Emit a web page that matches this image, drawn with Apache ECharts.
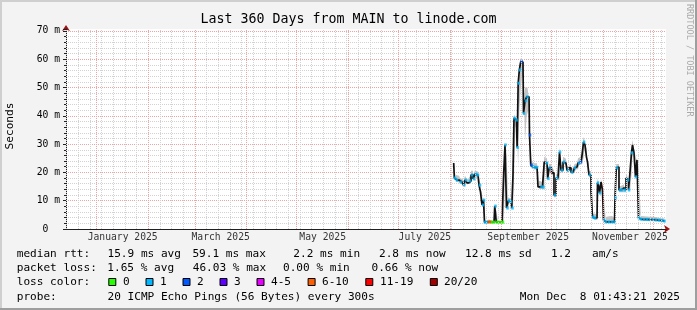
<!DOCTYPE html>
<html><head><meta charset="utf-8">
<script src="https://cdn.jsdelivr.net/npm/echarts@6/dist/echarts.min.js"></script>
<style>html,body{margin:0;padding:0;background:#f3f3f3}#c{width:697px;height:310px}</style>
</head><body><div id="c"></div>
<script>
// ---------- data ----------
const times = ['2025-08-03 05:00','2025-08-04 00:00','2025-08-05 05:00','2025-08-06 10:00','2025-08-07 14:00','2025-08-08 19:00','2025-08-09 10:00','2025-08-10 14:00','2025-08-11 19:00','2025-08-13 00:00',
'2025-08-14 05:00','2025-08-15 10:00','2025-08-16 14:00','2025-08-17 19:00','2025-08-19 00:00','2025-08-19 14:00','2025-08-20 19:00','2025-08-21 10:00','2025-08-22 00:00','2025-08-23 05:00',
'2025-08-24 10:00','2025-08-25 07:00','2025-08-26 05:00','2025-08-27 10:00','2025-08-28 07:00','2025-08-29 05:00','2025-08-30 10:00','2025-08-31 14:00','2025-09-01 19:00','2025-09-02 17:00',
'2025-09-03 07:00','2025-09-04 12:00','2025-09-05 10:00','2025-09-06 14:00','2025-09-07 12:00','2025-09-08 02:00','2025-09-08 17:00','2025-09-09 22:00','2025-09-10 14:00','2025-09-11 05:00',
'2025-09-12 00:00','2025-09-12 22:00','2025-09-13 19:00','2025-09-14 10:00','2025-09-15 14:00','2025-09-16 12:00','2025-09-17 10:00','2025-09-18 00:00','2025-09-18 22:00','2025-09-19 19:00',
'2025-09-21 00:00','2025-09-22 05:00','2025-09-23 10:00','2025-09-24 22:00','2025-09-26 02:00','2025-09-27 00:00','2025-09-28 05:00','2025-09-29 00:00','2025-09-30 00:00','2025-10-01 19:00',
'2025-10-03 00:00','2025-10-04 05:00','2025-10-05 10:00','2025-10-06 00:00','2025-10-07 05:00','2025-10-08 10:00','2025-10-09 14:00','2025-10-10 19:00','2025-10-12 00:00','2025-10-13 05:00',
'2025-10-14 10:00','2025-10-15 00:00','2025-10-16 05:00','2025-10-17 10:00','2025-10-18 14:00','2025-10-19 19:00','2025-10-20 10:00','2025-10-21 14:00','2025-10-22 05:00','2025-10-22 19:00',
'2025-10-24 00:00','2025-10-25 05:00','2025-10-25 19:00','2025-10-27 00:00','2025-10-28 05:00','2025-10-28 19:00','2025-10-29 10:00','2025-10-30 00:00','2025-10-31 05:00','2025-10-31 19:00',
'2025-11-01 10:00','2025-11-02 14:00','2025-11-04 10:00','2025-11-06 05:00','2025-11-07 17:00','2025-11-08 07:00','2025-11-09 05:00','2025-11-09 19:00','2025-11-11 00:00','2025-11-12 05:00',
'2025-11-12 19:00','2025-11-14 00:00','2025-11-15 05:00','2025-11-15 19:00','2025-11-16 10:00','2025-11-17 14:00','2025-11-18 05:00','2025-11-18 19:00','2025-11-20 00:00','2025-11-20 14:00',
'2025-11-21 19:00','2025-11-22 10:00','2025-11-23 14:00','2025-11-25 10:00','2025-11-27 05:00','2025-11-29 00:00','2025-11-30 19:00','2025-12-02 14:00','2025-12-04 10:00','2025-12-06 05:00',
'2025-12-07 17:00'];
// median rtt in ms
const median = [23.3,18.0,17.3,17.3,16.6,16.6,15.5,17.3,16.3,17.0,
19.1,17.7,19.4,19.1,15.5,13.1,8.5,10.2,2.4,2.4,
2.5,2.5,2.4,2.4,8.1,2.4,2.4,2.4,2.4,20.2,
29.7,7.4,10.0,9.6,7.4,19.0,39.2,38.5,28.8,51.5,
56.2,59.1,59.0,40.8,45.3,46.7,46.7,33.2,22.6,22.0,
21.8,21.8,14.9,14.9,14.8,23.7,23.3,17.8,21.6,19.8,
12.0,18.0,18.0,27.2,20.8,23.7,23.3,20.8,21.6,20.1,
20.8,21.6,21.9,23.3,23.7,25.8,30.7,29.7,25.4,23.7,
19.1,13.1,4.2,3.9,3.9,16.3,15.5,12.7,16.6,13.8,
3.2,2.5,2.5,2.5,2.5,11.0,21.6,21.9,13.8,13.8,
14.5,13.8,18.0,17.3,13.8,20.1,26.9,29.7,26.9,18.4,
24.4,3.9,3.5,3.4,3.4,3.3,3.3,3.2,3.1,3.0,
2.8];
// lost pings (of 20) where a loss colour is visible, null = plain
const loss = [null,1,1,null,1,null,1,1,null,1,
1,1,1,1,1,null,1,1,1,1,
8,8,0,0,1,0,0,0,0,null,
1,1,1,1,1,null,1,1,1,1,
1,2,null,1,1,1,null,2,2,1,
1,1,null,1,1,null,1,1,1,null,
1,1,null,1,1,1,null,1,null,1,
null,1,null,1,2,null,1,null,null,null,
1,null,1,1,null,1,null,1,null,null,
1,1,1,1,1,1,1,null,1,1,
null,1,null,1,1,null,1,null,null,1,
null,1,1,1,1,1,1,1,1,1,
1];
// spread of the pings (smoke), ms
const smokeMin = [22.5,17.3,16.6,16.6,15.9,15.9,14.8,16.6,15.6,16.3,
18.4,17.0,18.7,18.4,14.8,12.4,7.8,9.5,2.2,2.2,
2.2,2.2,2.2,2.2,7.0,2.2,2.2,2.2,2.2,19.5,
28.5,6.7,9.2,8.9,6.7,18.0,36.5,33.0,22.0,42.0,
50.0,54.0,53.0,31.0,40.0,42.0,40.0,26.0,21.5,21.2,
21.0,21.0,14.1,14.1,14.0,22.8,22.5,17.0,20.8,19.0,
11.2,17.2,17.2,25.8,20.0,22.9,22.5,20.0,20.8,19.3,
20.0,20.8,21.1,22.5,22.9,25.0,29.5,28.5,24.5,22.9,
18.3,12.3,3.6,3.3,3.3,15.5,14.7,11.9,15.8,13.0,
2.7,2.3,2.3,2.3,2.3,10.2,20.8,21.1,13.0,13.0,
13.7,13.0,17.2,16.5,13.0,19.3,25.8,28.5,25.8,17.6,
23.5,3.3,3.0,2.9,2.9,2.8,2.8,2.7,2.7,2.6,
2.5];
const smokeMax = [24.5,19.5,19.0,18.8,18.0,17.6,16.8,18.8,17.6,18.5,
20.6,19.0,20.8,20.2,16.6,14.0,9.8,11.2,3.0,3.2,
3.4,3.0,2.9,2.9,8.8,2.8,2.8,2.8,2.8,21.5,
31.0,8.6,11.2,10.6,8.4,20.0,40.5,39.5,35.0,53.0,
58.0,60.3,60.0,43.0,50.0,50.0,48.0,35.0,25.0,23.5,
23.2,23.2,17.0,16.5,16.5,25.5,25.0,19.5,23.0,21.0,
13.5,19.5,19.0,29.0,22.5,25.5,24.8,22.3,23.0,21.5,
22.2,23.0,23.2,25.0,25.5,28.5,32.5,31.0,27.0,25.0,
20.5,14.5,5.2,5.5,5.0,18.0,16.8,13.8,17.8,15.0,
4.0,4.2,4.5,4.6,4.0,12.5,23.0,23.0,15.2,15.0,
15.8,15.0,19.5,18.5,15.0,21.5,28.5,31.5,28.0,19.8,
25.8,5.2,4.6,4.5,4.4,4.3,4.3,4.2,4.0,3.9,
3.7];
const yTickLabels = ['0  ','10 m','20 m','30 m','40 m','50 m','60 m','70 m'];
const monthLabelTimes = ['2025-01-16 14:00','2025-03-16 10:00','2025-05-16 14:00','2025-07-16 22:00','2025-09-16 22:00','2025-11-17 00:00'];
const monthLabelNames = ['January 2025','March 2025','May 2025','July 2025','September 2025','November 2025'];
const lossNames = ['0','1','2','3','4-5','6-10','11-19','20/20'];
const lossPalette = ['#26ff00','#00b8ff','#0059ff','#5e00ff','#e600ff','#ff5e00','#ff0000','#a10000'];
const titleText = 'Last 360 Days from MAIN to linode.com';
const rttLabel = 'median rtt:';
const rttStats = ['15.9 ms avg','59.1 ms max','2.2 ms min','2.8 ms now','12.8 ms sd','1.2','am/s'];
const lossLabel = 'packet loss:';
const lossStats = ['1.65 % avg','46.03 % max','0.00 % min','0.66 % now'];
const colorLabel = 'loss color:';
const probeLabel = 'probe:';
const probeText = '20 ICMP Echo Pings (56 Bytes) every 300s';
const dateText = 'Mon Dec  8 01:43:21 2025';
const unitText = 'Seconds';
const watermark = 'RRDTOOL / TOBI OETIKER';

// ---------- helpers ----------
function ts(s){const [d,h]=s.split(' ');const [Y,M,D]=d.split('-').map(Number);const [hh,mm]=h.split(':').map(Number);return Date.UTC(Y,M-1,D,hh,mm);}
function bucket(n){if(n<=3)return n;if(n<=5)return 4;if(n<=10)return 5;if(n<20)return 6;return 7;}
const X_MIN = Date.UTC(2024,11,13,14,24), X_MAX = Date.UTC(2025,11,8,14,24);
const Y_MAX = 70.67;
const DAY = 86400000;
const weekLines=[]; for(let t=Date.UTC(2024,11,14); t<X_MAX; t+=7*DAY){ if(t>X_MIN) weekLines.push(t); }
const monthLines=[]; for(let m=0;m<12;m++) monthLines.push(Date.UTC(2025,m,1));
const MONO = '"DejaVu Sans Mono"';

const medianData = times.map((t,i)=>[ts(t),median[i]]);
const baseData = times.map((t,i)=>[ts(t),smokeMin[i]]);
const bandData = times.map((t,i)=>[ts(t),+(smokeMax[i]-smokeMin[i]).toFixed(2)]);
const lossData = []; times.forEach((t,i)=>{ if(loss[i]!==null) lossData.push([ts(t),median[i],loss[i]]); });

// ---------- graphics: texts, frame, legend ----------
const g = [];
g.push({type:'rect',silent:true,shape:{x:0,y:0,width:697,height:2},style:{fill:'#cfcfcf'}});
g.push({type:'rect',silent:true,shape:{x:0,y:0,width:2,height:310},style:{fill:'#cfcfcf'}});
g.push({type:'rect',silent:true,shape:{x:0,y:308,width:697,height:2},style:{fill:'#9e9e9e'}});
g.push({type:'rect',silent:true,shape:{x:695,y:0,width:2,height:310},style:{fill:'#9e9e9e'}});
function txt(s,x,y,size,align){ return {type:'text',silent:true,x:x,y:y,style:{text:s,font:size+'px '+MONO,fill:'#000',align:align||'left',verticalAlign:'middle'}}; }
g.push(txt(titleText,348.5,19.5,13.3,'center'));
g.push({type:'text',silent:true,x:10,y:126,rotation:Math.PI/2,style:{text:unitText,font:'11.1px '+MONO,fill:'#000',align:'center',verticalAlign:'middle'}});
g.push({type:'text',silent:true,x:689,y:4,rotation:-Math.PI/2,style:{text:watermark,font:'8.5px '+MONO,fill:'#aaaaaa',align:'left',verticalAlign:'middle'}});
const LF = 11.1;
const rowY = [254, 268.3, 282.6, 297];
g.push(txt(rttLabel,16.7,rowY[0],LF));
[107.5,192.4,293.3,379,465,551,592].forEach((x,i)=>g.push(txt(rttStats[i],x,rowY[0],LF)));
g.push(txt(lossLabel,16.7,rowY[1],LF));
[107.3,192.7,283,371.5].forEach((x,i)=>g.push(txt(lossStats[i],x,rowY[1],LF)));
g.push(txt(colorLabel,16.7,rowY[2],LF));
const swX=[108.3,145.5,182.5,219.5,256.5,307.6,365.3,429.8], swL=[123,160,197,234,271,322,380,444];
lossNames.forEach((n,i)=>{
  g.push({type:'rect',silent:true,shape:{x:swX[i]+0.5,y:278.5,width:7,height:7},style:{fill:lossPalette[i],stroke:'#000',lineWidth:1}});
  g.push(txt(n,swL[i],rowY[2],LF));
});
g.push(txt(probeLabel,16.7,rowY[3],LF));
g.push(txt(probeText,107.5,rowY[3],LF));
g.push(txt(dateText,680,rowY[3],LF,'right'));

const chart = echarts.init(document.getElementById('c'), null, {renderer:'canvas'});
chart.setOption({
  animation:false,
  backgroundColor:'#f3f3f3',
  grid:{left:66,top:29,width:600,height:200,show:true,backgroundColor:'#ffffff',borderWidth:0,containLabel:false},
  xAxis:[
    {type:'time',min:X_MIN,max:X_MAX,position:'bottom',z:1.5,
     axisLine:{show:true,onZero:false,lineStyle:{color:'#202020',width:1}},
     axisTick:{show:false},axisLabel:{show:false},splitLine:{show:false}},
    {type:'time',min:X_MIN,max:X_MAX,position:'bottom',z:1.2,
     axisLine:{show:true,onZero:false,symbol:['none','arrow'],symbolSize:[6,6],symbolOffset:[0,4],lineStyle:{color:'#a01010',width:1}},
     axisTick:{show:false},axisLabel:{show:false},splitLine:{show:false}}
  ],
  yAxis:[
    {type:'value',min:0,max:Y_MAX,interval:10,position:'left',z:1.5,
     axisLine:{show:true,lineStyle:{color:'#202020',width:1}},
     axisTick:{show:true,length:3,lineStyle:{color:'#202020'}},
     axisLabel:{show:true,margin:6,color:'#000',fontFamily:'DejaVu Sans Mono',fontSize:9.7,
       formatter:v=>{const k=Math.round(v/10); return (Math.abs(v-k*10)<1e-6 && k<yTickLabels.length)? yTickLabels[k] : '';}},
     splitLine:{show:true,showMinLine:false,showMaxLine:false,lineStyle:{color:'#eca4a4',width:1,type:[1,1]}}},
    {type:'value',min:0,max:Y_MAX,interval:2,position:'left',z:1.2,
     axisLine:{show:true,symbol:['none','arrow'],symbolSize:[6,6],symbolOffset:[0,4],lineStyle:{color:'#a01010',width:1}},
     axisTick:{show:true,length:2,lineStyle:{color:'#202020'}},
     axisLabel:{show:false},
     splitLine:{show:true,showMinLine:false,showMaxLine:false,lineStyle:{color:'#d2d2d2',width:1,type:[1,1]}}}
  ],
  series:[
    {type:'scatter',name:'weekGrid',data:[],silent:true,z:1,
     markLine:{silent:true,animation:false,symbol:['none','none'],label:{show:false},emphasis:{disabled:true},
       lineStyle:{color:'#d2d2d2',width:1,type:[1,1]},data:weekLines.map(v=>({xAxis:v}))}},
    {type:'scatter',name:'monthGrid',data:[],silent:true,z:1.3,
     markLine:{silent:true,animation:false,symbol:['none','none'],label:{show:false},emphasis:{disabled:true},
       lineStyle:{color:'#eca4a4',width:1,type:[1,1]},data:monthLines.map(v=>({xAxis:v}))}},
    {type:'line',name:'smokeBase',data:baseData,stack:'smoke',step:'middle',symbol:'none',silent:true,z:2,
     lineStyle:{width:0,opacity:0}},
    {type:'line',name:'smoke',data:bandData,stack:'smoke',step:'middle',symbol:'none',silent:true,z:2,
     lineStyle:{width:0,opacity:0},areaStyle:{color:'#c4c4c4',opacity:1}},
    {type:'line',name:'median',data:medianData,step:'middle',symbol:'none',silent:true,z:3,
     lineStyle:{color:'#111111',width:1.7,type:'solid'}},
    {type:'scatter',name:'loss',data:lossData,symbol:'rect',symbolSize:[2.5,3],silent:true,z:4,
     itemStyle:{color:p=>lossPalette[bucket(p.value[2])]}},
    {type:'scatter',name:'monthLabels',data:monthLabelTimes.map((t,i)=>[ts(t),0,monthLabelNames[i]]),
     symbolSize:0,silent:true,clip:false,z:5,
     label:{show:true,position:'bottom',distance:3,formatter:p=>p.value[2],color:'#000',fontFamily:'DejaVu Sans Mono',fontSize:9.7}}
  ],
  graphic:g
});
</script>
</body></html>
